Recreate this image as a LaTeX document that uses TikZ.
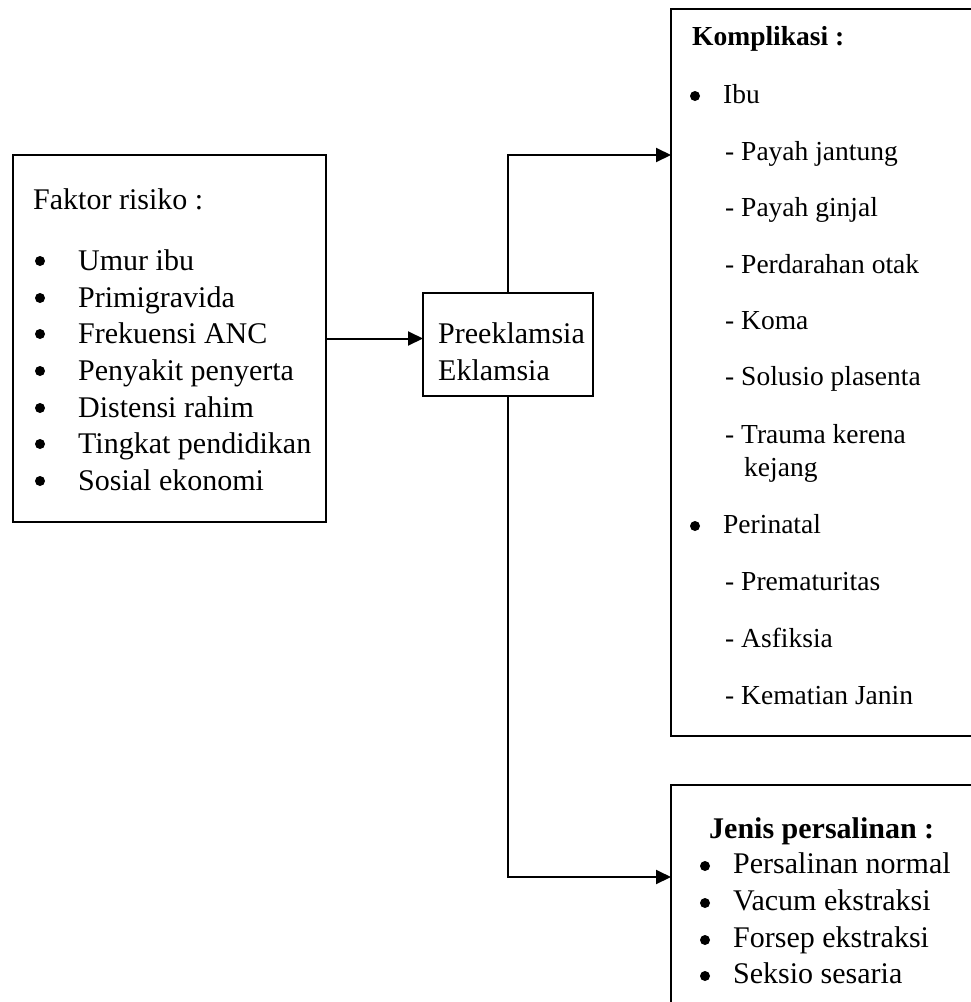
\documentclass[tikz,border=0pt]{standalone}
\usepackage{fontspec}
\setmainfont{Liberation Serif}
\usetikzlibrary{arrows.meta}
\begin{document}
\begin{tikzpicture}[x=1pt,y=-1pt,
  boxst/.style={draw, line width=2pt, rectangle, inner sep=0pt, outer sep=0pt, anchor=north west},
  arr/.style={line width=2pt, -{Triangle[length=15pt,width=14pt]}},
  big/.style={anchor=base west, inner sep=0pt, font=\fontsize{30}{36}\selectfont},
  small/.style={anchor=base west, inner sep=0pt, font=\fontsize{27.5}{33}\selectfont},
  dot/.style={circle, fill=black, inner sep=0pt, minimum size=10pt}]
\useasboundingbox (0,0) rectangle (971,1002);
\clip (0,0) rectangle (971,1002);
% boxes
\node[boxst, minimum width=313pt, minimum height=367pt] (risk) at (13,155) {};
\node[boxst, minimum width=170pt, minimum height=103pt] (mid) at (423,293) {};
\node[boxst, minimum width=340pt, minimum height=727pt] (komp) at (671,9) {};
\node[boxst, minimum width=340pt, minimum height=300pt] (jenis) at (671,785) {};
% left box text
\node[big] (rt) at (33,209) {Faktor risiko :};
\foreach \t/\y [count=\i] in {Umur ibu/270, Primigravida/307, Frekuensi ANC/343, Penyakit penyerta/380, Distensi rahim/417, Tingkat pendidikan/453, Sosial ekonomi/490}{
  \node[dot] (rb\i) at (40,\y-9) {};
  \node[big] (ri\i) at (78,\y) {\t};
}
% middle text
\node[big] (m1) at (438,343) {Preeklamsia};
\node[big] (m2) at (438,380) {Eklamsia};
% komplikasi
\node[small] (kt) at (692,45) {\textbf{Komplikasi :}};
\node[dot] (kb1) at (695,96) {};
\node[small] (ki1) at (723,103) {Ibu};
\foreach \t/\y [count=\i] in {Payah jantung/160, Payah ginjal/216, Perdarahan otak/273, Koma/329, Solusio plasenta/385, Trauma kerena/443}{
  \node[small] (kd\i) at (725,\y) {- \t};
}
\node[small] (kd7) at (744,476) {kejang};
\node[dot] (kb2) at (695,526) {};
\node[small] (ki2) at (723,533) {Perinatal};
\foreach \t/\y [count=\i] in {Prematuritas/590, Asfiksia/647, Kematian Janin/704}{
  \node[small] (kp\i) at (725,\y) {- \t};
}
% jenis persalinan
\node[big] (jt) at (709,838) {\textbf{Jenis persalinan :}};
\foreach \t/\y [count=\i] in {Persalinan normal/873, Vacum ekstraksi/910, Forsep ekstraksi/947, Seksio sesaria/983}{
  \node[dot] (jb\i) at (705,\y-7) {};
  \node[big] (ji\i) at (733,\y) {\t};
}
% connectors
\draw[arr] (risk.east) -- (risk.east -| mid.west);
\draw[arr] (mid.north) |- (komp.west |- risk.north);
\draw[arr] (mid.south) |- ([yshift=-92pt]jenis.north west);
\end{tikzpicture}
\end{document}
